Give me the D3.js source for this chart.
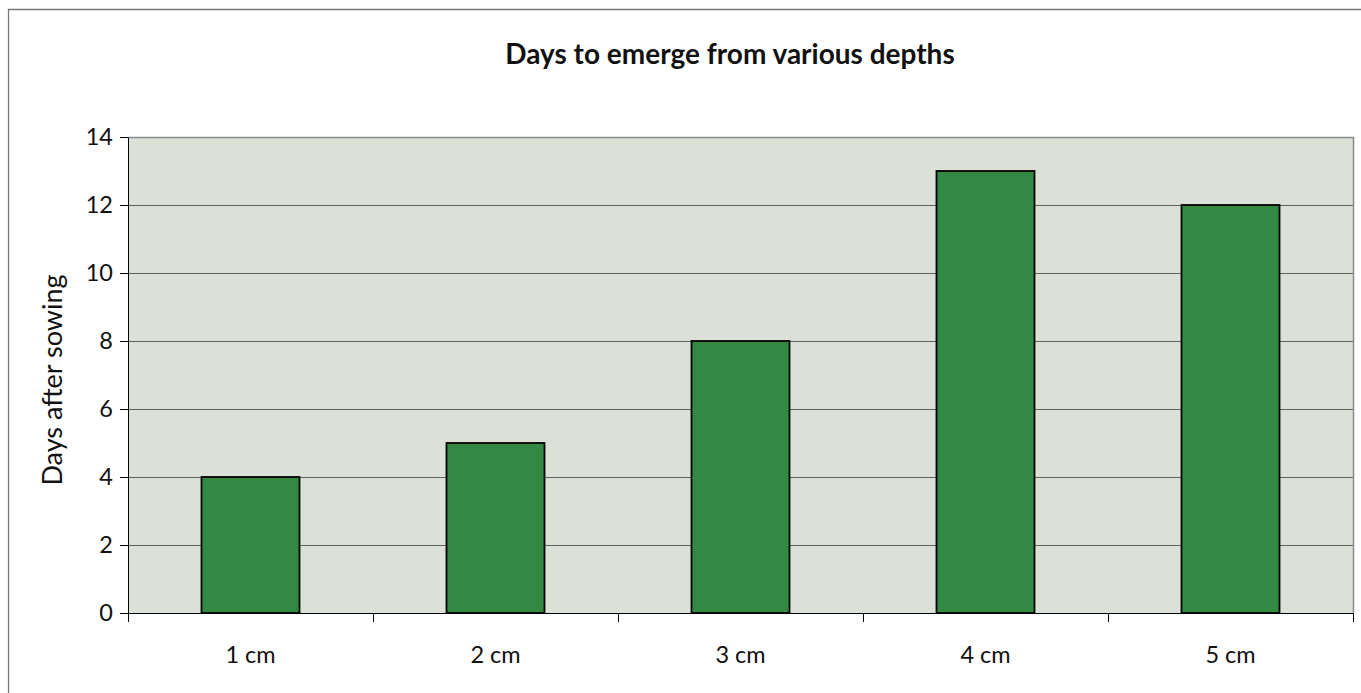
<!DOCTYPE html>
<html><head><meta charset="utf-8">
<script src="https://cdn.jsdelivr.net/npm/d3@7"></script>
<style>html,body{margin:0;padding:0;background:#fff;}svg{display:block;}</style>
</head><body>
<svg id="chart" width="1361" height="693"></svg>
<script>
const categories = ["1 cm", "2 cm", "3 cm", "4 cm", "5 cm"];
const values = [4, 5, 8, 13, 12];
const yTicks = [0, 2, 4, 6, 8, 10, 12, 14];
const title = "Days to emerge from various depths";
const yLabel = "Days after sowing";

const svg = d3.select("#chart");
const font = "Lato, 'Open Sans', sans-serif";
const m = {left: 128, top: 137, right: 1353, bottom: 613};

// outer border (only left/top visible)
svg.append("path").attr("d", "M8.5,800V9.5H1400")
  .attr("fill", "none").attr("stroke", "#777").attr("stroke-width", 1.3);

const x = d3.scaleBand().domain(categories).range([m.left, m.right]).paddingInner(0).paddingOuter(0);
const y = d3.scaleLinear().domain([0, 14]).range([m.bottom, m.top]);

svg.append("rect").attr("x", m.left).attr("y", m.top).attr("width", m.right - m.left).attr("height", m.bottom - m.top)
  .attr("fill", "#dbe1d7");

// gridlines
svg.append("g").selectAll("line").data(yTicks.filter(d => d > 0 && d < 14)).join("line")
  .attr("x1", m.left).attr("x2", m.right).attr("y1", d => y(d) + 0.5).attr("y2", d => y(d) + 0.5)
  .attr("stroke", "#5f635d").attr("stroke-width", 1);

// plot border top/right
svg.append("path").attr("d", `M${m.left},${m.top + 0.5}H${m.right + 0.5}V${m.bottom}`)
  .attr("fill", "none").attr("stroke", "#8a8a8a").attr("stroke-width", 1.5);

// bars
const bw = x.bandwidth() * 0.40;
svg.append("g").selectAll("rect").data(values).join("rect")
  .attr("x", (d, i) => x(categories[i]) + (x.bandwidth() - bw) / 2)
  .attr("y", d => y(d))
  .attr("width", bw)
  .attr("height", d => y(0) - y(d))
  .attr("fill", "#338944").attr("stroke", "#000").attr("stroke-width", 1.8);

// y axis
const yAxis = svg.append("g").attr("transform", `translate(${m.left},0)`)
  .call(d3.axisLeft(y).tickValues(yTicks).tickSize(8).tickPadding(7).tickSizeOuter(0));
yAxis.select(".domain").attr("stroke", "#000");
yAxis.selectAll(".tick line").attr("stroke", "#000");
yAxis.selectAll("text").attr("font-family", font).attr("font-size", 23.5).attr("fill", "#111");

// x axis
const xAxis = svg.append("g").attr("transform", `translate(0,${m.bottom})`)
  .call(d3.axisBottom(x).tickSize(0).tickPadding(33).tickSizeOuter(0));
xAxis.select(".domain").attr("stroke", "#000");
xAxis.selectAll("text").attr("font-family", font).attr("font-size", 23.5).attr("fill", "#111");
// tick marks at band boundaries
const bounds = categories.map(c => x(c)).concat([m.right]);
svg.append("g").selectAll("line").data(bounds).join("line")
  .attr("x1", d => Math.round(d) + 0.5).attr("x2", d => Math.round(d) + 0.5)
  .attr("y1", m.bottom).attr("y2", m.bottom + 9).attr("stroke", "#000");

// title
svg.append("text").attr("x", 730).attr("y", 64).attr("text-anchor", "middle")
  .attr("font-family", font).attr("font-weight", "bold").attr("font-size", 28).attr("fill", "#111").text(title);

// y label
svg.append("text").attr("transform", `translate(62,380) rotate(-90)`)
  .attr("text-anchor", "middle").attr("font-family", font).attr("font-size", 27).attr("fill", "#111").text(yLabel);
</script>
</body></html>
